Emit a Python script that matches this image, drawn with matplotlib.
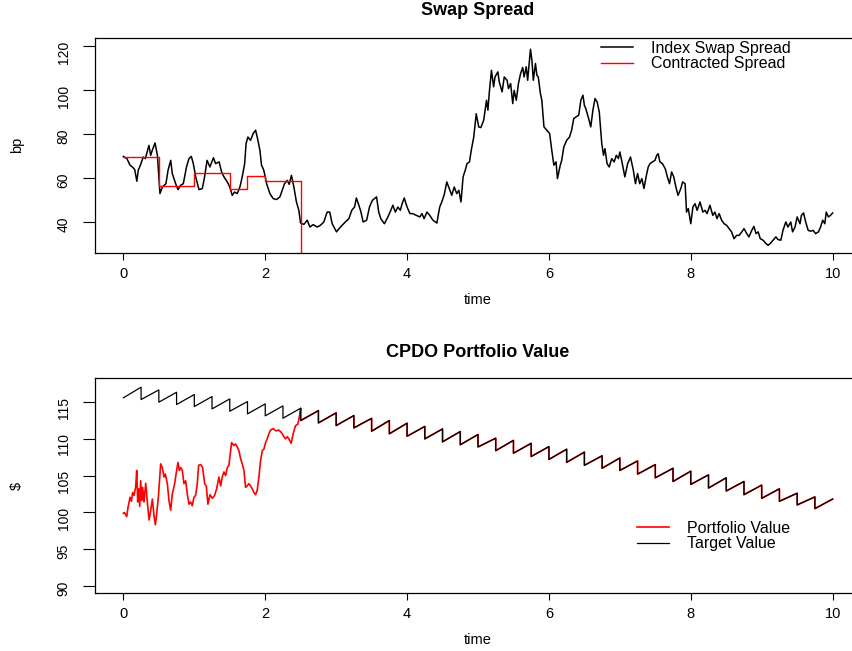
import numpy as np
import matplotlib
matplotlib.use("Agg")
import matplotlib.pyplot as plt

plt.rcParams['font.family'] = ['Liberation Sans', 'DejaVu Sans']

# index swap spread path (years, bp)
swap_time = [
    0, .05, .094, .127, .16, .19, .21, .24, .28, .31, .36, .385, .408, .446, .48,
    .516, .55, .6, .63, .667, .69, .737, .77, .808, .845, .89, .925, .958, .986,
    1.02, 1.066, 1.113, 1.145, 1.18, 1.22, 1.27, 1.3, 1.35, 1.385, 1.418, 1.465,
    1.5, 1.535, 1.568, 1.605, 1.643, 1.676, 1.71, 1.73, 1.756, 1.793, 1.83, 1.864,
    1.887, 1.925, 1.948, 1.98, 2.02, 2.066, 2.113, 2.16, 2.207, 2.24, 2.272, 2.31,
    2.338, 2.37, 2.404, 2.44, 2.474, 2.498, 2.545, 2.592, 2.63, 2.676, 2.732,
    2.779, 2.826, 2.873, 2.91, 2.944, 3.005, 3.06, 3.13, 3.18, 3.22, 3.26, 3.285,
    3.32, 3.35, 3.38, 3.43, 3.47, 3.51, 3.54, 3.57, 3.6, 3.63, 3.68, 3.73, 3.76,
    3.8, 3.835, 3.87, 3.905, 3.93, 3.96, 4.0, 4.04, 4.08, 4.13, 4.18, 4.21, 4.24,
    4.28, 4.32, 4.365, 4.42, 4.46, 4.49, 4.525, 4.56, 4.6, 4.63, 4.665, 4.7, 4.73,
    4.76, 4.79, 4.82, 4.845, 4.88, 4.905, 4.94, 4.975, 5.01, 5.04, 5.08, 5.12,
    5.14, 5.16, 5.19, 5.22, 5.24, 5.28, 5.3, 5.34, 5.37, 5.41, 5.43, 5.46, 5.49,
    5.51, 5.54, 5.57, 5.6, 5.63, 5.65, 5.68, 5.7, 5.74, 5.76, 5.78, 5.81, 5.83,
    5.85, 5.88, 5.9, 5.93, 5.97, 6.01, 6.04, 6.07, 6.1, 6.12, 6.16, 6.18, 6.21,
    6.25, 6.29, 6.32, 6.35, 6.38, 6.42, 6.45, 6.48, 6.5, 6.52, 6.56, 6.59, 6.62,
    6.65, 6.68, 6.71, 6.745, 6.77, 6.79, 6.82, 6.85, 6.885, 6.92, 6.95, 6.98, 7.0,
    7.03, 7.07, 7.11, 7.15, 7.19, 7.22, 7.25, 7.28, 7.31, 7.34, 7.37, 7.4, 7.425,
    7.46, 7.495, 7.52, 7.54, 7.565, 7.6, 7.64, 7.67, 7.7, 7.73, 7.76, 7.79, 7.82,
    7.86, 7.885, 7.92, 7.94, 7.965, 8.0, 8.03, 8.06, 8.09, 8.13, 8.17, 8.2, 8.23,
    8.27, 8.31, 8.34, 8.37, 8.4, 8.435, 8.47, 8.505, 8.54, 8.575, 8.61, 8.645,
    8.68, 8.72, 8.75, 8.79, 8.82, 8.86, 8.89, 8.92, 8.95, 8.98, 9.02, 9.06, 9.09,
    9.12, 9.16, 9.2, 9.23, 9.27, 9.3, 9.34, 9.37, 9.41, 9.435, 9.47, 9.5, 9.54,
    9.56, 9.59, 9.62, 9.655, 9.69, 9.725, 9.76, 9.8, 9.83, 9.86, 9.89, 9.91, 9.94,
    9.97, 10.0,
]
swap_bp = [
    69.8, 68.8, 65.8, 65, 63.8, 58.5, 63.5, 65.8, 69.5, 68.8, 74.8, 70.3, 72.6,
    75.9, 70.3, 52.9, 55.9, 57.4, 63.5, 68, 62, 57.4, 54.7, 56.7, 57.4, 65, 68.8,
    69.8, 66.5, 60.5, 54.7, 55.2, 60.5, 68, 65, 69.2, 66.5, 67.3, 62.7, 60.5,
    58.2, 55.9, 52.1, 53.6, 52.9, 55.9, 60.5, 66.5, 75.6, 78.6, 77.1, 80.2, 81.7,
    78.6, 72.6, 65.8, 63.5, 57.4, 52.9, 50.6, 50.2, 51.4, 54.4, 57.4, 58.9, 57.1,
    61.2, 55.9, 49.1, 45.3, 39.5, 38.9, 40.8, 37.7, 38.8, 37.7, 38.5, 40, 44.5,
    44.5, 39.2, 35.5, 37.7, 40, 41.5, 45.3, 46.8, 50.9, 47.6, 44.5, 40, 40.8,
    46.8, 49.8, 50.6, 51.4, 44.5, 41.5, 39.2, 42.3, 44.5, 47.6, 44.5, 46.8, 45.3,
    48.3, 50.9, 46.8, 43.8, 43.8, 43, 42.3, 43.8, 41.5, 44.5, 43, 40.8, 39.5,
    46.8, 49.1, 52.6, 58.2, 54.7, 52.1, 55.9, 52.9, 54.4, 49.1, 60.5, 63.5, 66.5,
    67.3, 72.6, 78.6, 89.2, 83.2, 82.9, 86.2, 95.3, 90.8, 99.1, 108.9, 101.4,
    105.9, 108.2, 103.6, 99.1, 105.9, 104.4, 100.6, 102.9, 93.8, 99.8, 95.3,
    102.9, 107.4, 110.2, 105.9, 110.5, 104.4, 118.5, 113.5, 104.4, 112, 106.7,
    105.9, 98.3, 95.3, 83.2, 81.7, 80.2, 72.6, 65.8, 67.3, 59.7, 65.8, 68, 74.1,
    77.1, 78.6, 81.7, 87, 87.7, 88.5, 95.3, 97.6, 93, 91.5, 87, 83.2, 90.8, 96.1,
    94.5, 90, 75.6, 70.3, 73.3, 66.5, 65, 68.8, 67.3, 70.3, 68.8, 71.8, 67.3,
    60.5, 66.5, 69.5, 63.5, 57.4, 62, 57.4, 59.7, 55.2, 60.5, 65, 66.5, 67.3, 68,
    70.3, 71, 67.3, 66.5, 64.2, 60.5, 57.4, 62.7, 60.5, 55.9, 52.1, 55.2, 58.2,
    57.4, 44.5, 46.1, 39.2, 46.8, 48.3, 45.3, 49.1, 44.5, 45.3, 43.8, 47.6, 43,
    44.5, 41.5, 43.8, 40.8, 39.2, 38.5, 37, 35.5, 32.4, 33.9, 33.9, 35.5, 37,
    34.7, 33.2, 36.2, 38, 34.7, 35.5, 32.4, 31.7, 30.2, 29.4, 30.2, 31.7, 33.2,
    32, 31.7, 36.2, 40, 37.7, 40, 35.5, 37.7, 42.3, 39.2, 43, 44.1, 40, 36.2,
    35.8, 36.2, 34.7, 35.5, 37.7, 40.8, 39.2, 44.5, 42.3, 43, 44.1,
]

# contracted spread, reset at each roll, zero after cash-in at 2.5y
contract_time = [0, 0.5, 1.0, 1.5, 1.75, 2.0, 2.5, 10]
contract_bp = [69.5, 56.2, 62.4, 55.2, 61.1, 58.8, 0, 0]

# target value: accrues between quarterly coupon dates, drops at each coupon
coupon_dates = np.arange(1, 40) * 0.25
target_start = 115.6
target_before = [
    117.05, 116.68, 116.36, 116.05, 115.77, 115.45, 115.09, 114.77, 114.5,
    114.18, 113.86, 113.55, 113.18, 112.8, 112.5, 112.14, 111.7, 111.36, 111.0,
    110.6, 110.1, 109.8, 109.4, 108.95, 108.6, 108.2, 107.7, 107.4, 107.0, 106.5,
    106.0, 105.6, 105.1, 104.7, 104.2, 103.7, 103.2, 102.6, 102.1,
]
target_after = [
    115.36, 115.0, 114.68, 114.41, 114.09, 113.77, 113.41, 113.14, 112.82, 112.5,
    112.18, 111.82, 111.5, 111.05, 110.7, 110.36, 110.0, 109.6, 109.2, 108.9,
    108.4, 108.05, 107.6, 107.2, 106.8, 106.4, 106.0, 105.7, 105.2, 104.7, 104.2,
    103.8, 103.3, 102.9, 102.4, 101.9, 101.5, 101.0, 100.5,
]
target_end = 101.8

# portfolio value up to cash-in (afterwards it sits on the target)
portfolio_time = [
    0, .015, .047, .066, .094, .113, .131, .15, .174, .188, .202, .216, .23, .244,
    .258, .272, .291, .315, .338, .362, .385, .409, .432, .451, .47, .493, .526,
    .549, .573, .592, .62, .643, .667, .69, .723, .751, .77, .789, .808, .831,
    .854, .878, .901, .925, .948, .972, .995, 1.019, 1.042, 1.061, 1.089, 1.117,
    1.146, 1.169, 1.192, 1.221, 1.254, 1.286, 1.315, 1.347, 1.371, 1.394, 1.418,
    1.441, 1.465, 1.488, 1.512, 1.526, 1.559, 1.582, 1.606, 1.629, 1.653, 1.676,
    1.7, 1.723, 1.746, 1.77, 1.793, 1.817, 1.84, 1.864, 1.887, 1.911, 1.934,
    1.958, 1.981, 2.005, 2.028, 2.052, 2.075, 2.113, 2.15, 2.192, 2.225, 2.254,
    2.286, 2.31, 2.333, 2.366, 2.394, 2.427, 2.46, 2.488, 2.5,
]
portfolio_value = [
    99.86, 99.98, 99.4, 100.7, 102.05, 101.5, 102.7, 102.3, 103.5, 105.7, 101.4,
    103.2, 100.8, 104.3, 101.6, 103.4, 101.4, 103.95, 101.4, 98.95, 100.2, 101.8,
    99.5, 98.3, 99.8, 102.05, 106.6, 106.1, 104.8, 105.2, 103.9, 101.6, 100.3,
    102.5, 103.9, 105.7, 106.8, 105.7, 106.1, 105.7, 103.9, 104.3, 102.5, 101.1,
    101.4, 100.9, 102.05, 102.3, 103.9, 106.4, 106.5, 106.1, 103.9, 103.6, 101.1,
    102.4, 101.9, 102.3, 103.2, 104.8, 103.6, 104.8, 105.5, 105, 106.1, 106.4,
    108.4, 109.5, 109.1, 109.3, 108.9, 108.4, 107.3, 106.6, 105.7, 103.4, 103.6,
    103.9, 103.6, 103.2, 102.7, 102.4, 103, 104.8, 107, 108.4, 108.6, 109.5, 110,
    110.7, 111.2, 111.4, 111.1, 111.2, 110.9, 110.45, 110, 110.3, 110, 109.4,
    110.7, 111.8, 112, 113.4, 114.18,
]

# sawtooth path of the target value
target_x = [0.0]
target_y = [target_start]
for d, hi, lo in zip(coupon_dates, target_before, target_after):
    target_x += [d, d]
    target_y += [hi, lo]
target_x.append(10.0)
target_y.append(target_end)
target_x = np.array(target_x)
target_y = np.array(target_y)

# after cash-in the portfolio follows the target
cash_in = portfolio_time[-1]
after = np.where(target_x >= cash_in)[0][1:]
pv_x = np.concatenate([portfolio_time, target_x[after]])
pv_y = np.concatenate([portfolio_value, target_y[after]])

W, H = 853, 651
fig = plt.figure(figsize=(W / 100, H / 100), dpi=100)


def axes_px(left, top, right, bottom):
    return fig.add_axes([left / W, 1 - bottom / H, (right - left) / W, (bottom - top) / H])


def style(ax):
    ax.set_xlim(-0.4, 10.4)
    ax.set_xticks(range(0, 11, 2))
    ax.tick_params(axis='x', length=5, width=0.8, pad=5, labelsize=10.5)
    ax.tick_params(axis='y', length=8.5, width=0.8, pad=9, labelsize=10,
                   labelrotation=90)
    for s in ax.spines.values():
        s.set_linewidth(0.9)


ax1 = axes_px(95, 38, 861, 253)
ax1.plot(swap_time, swap_bp, color='black', lw=1.1, label='Index Swap Spread')
ax1.step(contract_time, contract_bp, where='post', color='red', lw=1.0,
         label='Contracted Spread')
style(ax1)
ax1.set_ylim(25.9, 123.6)
ax1.set_yticks(range(40, 121, 20))
ax1.legend(loc='upper left', bbox_to_anchor=(601 / W, 1 - 41 / H),
           bbox_transform=fig.transFigure, frameon=False, fontsize=11.5,
           handlelength=2.0, handletextpad=1.1, labelspacing=0.02,
           borderpad=0, borderaxespad=0)

ax2 = axes_px(95, 378, 861, 593)
ax2.plot(pv_x, pv_y, color='red', lw=1.2, label='Portfolio Value')
ax2.plot(target_x, target_y, color='black', lw=0.9, label='Target Value')
style(ax2)
ax2.set_ylim(89.0, 118.3)
ax2.set_yticks(range(90, 116, 5))
ax2.legend(loc='upper left', bbox_to_anchor=(637 / W, 1 - 521 / H),
           bbox_transform=fig.transFigure, frameon=False, fontsize=11.5,
           handlelength=2.0, handletextpad=1.1, labelspacing=0.02,
           borderpad=0, borderaxespad=0)

# titles and axis labels
fig.text(478 / W, 1 - 15 / H, 'Swap Spread', ha='center', va='baseline',
         fontsize=13, fontweight='bold')
fig.text(478 / W, 1 - 357 / H, 'CPDO Portfolio Value', ha='center',
         va='baseline', fontsize=13, fontweight='bold')
fig.text(478 / W, 1 - 304 / H, 'time', ha='center', va='baseline', fontsize=10.5)
fig.text(478 / W, 1 - 644 / H, 'time', ha='center', va='baseline', fontsize=10.5)
fig.text(17 / W, 1 - 145 / H, 'bp', ha='center', va='center', rotation=90,
         fontsize=10.5)
fig.text(17 / W, 1 - 486 / H, '$', ha='center', va='center', rotation=90,
         fontsize=10.5)

fig.savefig('out.png', dpi=100)
